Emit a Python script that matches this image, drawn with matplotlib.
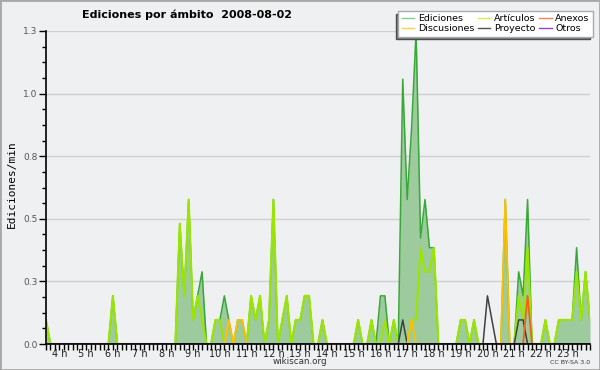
import numpy as np
import matplotlib
matplotlib.use('Agg')
import matplotlib.pyplot as plt
from matplotlib.patches import Rectangle
from matplotlib.lines import Line2D

# 10-minute bins, from 3:40 to 24:00 (edits per minute)
start_hour = 3 + 40 / 60.0

ediciones = [0.1, 0,
    0, 0, 0, 0, 0, 0,            # 4 h
    0, 0, 0, 0, 0, 0,            # 5 h
    0, 0.2, 0, 0, 0, 0,          # 6 h
    0, 0, 0, 0, 0, 0,            # 7 h
    0, 0, 0, 0, 0.5, 0.2,        # 8 h
    0.6, 0.1, 0.2, 0.3, 0, 0,    # 9 h
    0.1, 0.1, 0.2, 0.1, 0, 0.1,  # 10 h
    0.1, 0, 0.2, 0.1, 0.2, 0,    # 11 h
    0.1, 0.6, 0, 0.1, 0.2, 0,    # 12 h
    0.1, 0.1, 0.2, 0.2, 0, 0,    # 13 h
    0.1, 0, 0, 0, 0, 0,          # 14 h
    0, 0, 0.1, 0, 0, 0.1,        # 15 h
    0, 0.2, 0.2, 0, 0.1, 0,      # 16 h
    1.1, 0.6, 0.9, 1.3, 0.44, 0.6,  # 17 h
    0.4, 0.4, 0, 0, 0, 0,        # 18 h
    0, 0.1, 0.1, 0, 0.1, 0,      # 19 h
    0, 0, 0, 0, 0, 0.6,          # 20 h
    0, 0, 0.3, 0.2, 0.6, 0,      # 21 h
    0, 0, 0.1, 0, 0, 0.1,        # 22 h
    0.1, 0.1, 0.1, 0.4, 0.1, 0.3,  # 23 h
    0.1]

articulos = [0.1, 0,
    0, 0, 0, 0, 0, 0,
    0, 0, 0, 0, 0, 0,
    0, 0.2, 0, 0, 0, 0,
    0, 0, 0, 0, 0, 0,
    0, 0, 0, 0, 0.5, 0.2,
    0.6, 0.1, 0.2, 0.1, 0, 0,
    0.1, 0.1, 0, 0, 0, 0,
    0, 0, 0.2, 0.1, 0.2, 0,
    0.1, 0.6, 0, 0.1, 0.2, 0,
    0.1, 0.1, 0.2, 0.2, 0, 0,
    0.1, 0, 0, 0, 0, 0,
    0, 0, 0.1, 0, 0, 0.1,
    0, 0, 0.1, 0, 0.1, 0,
    0, 0, 0.1, 0.1, 0.4, 0.3,
    0.3, 0.4, 0, 0, 0, 0,
    0, 0.1, 0.1, 0, 0.1, 0,
    0, 0, 0, 0, 0, 0,
    0, 0, 0.2, 0.1, 0.4, 0,
    0, 0, 0.1, 0, 0, 0.1,
    0.1, 0.1, 0.1, 0.3, 0.1, 0.3,
    0.1]

n = len(ediciones)
discusiones = [0] * n
proyecto = [0] * n
anexos = [0] * n
otros = [0] * n
for i, v in [(41, 0.1), (43, 0.1), (44, 0.1), (82, 0.1), (103, 0.6)]:
    discusiones[i] = v
for i, v in [(80, 0.1), (99, 0.2), (100, 0.1), (106, 0.1), (107, 0.1)]:
    proyecto[i] = v
anexos[108] = 0.2

hours = list(range(4, 24))

bg = '#eff0f1'
x = start_hour + np.arange(n) / 6.0

fig = plt.figure(figsize=(6, 3.7), dpi=100, facecolor=bg)
ax = fig.add_axes([46/600, 26/370, 544/600, 313/370])
ax.set_facecolor(bg)

ax.fill_between(x, ediciones, 0, color='#9dcb9d', lw=0, zorder=1)
ax.plot(x, ediciones, color='#38a838', lw=1.1, zorder=2)
ax.plot(x, articulos, color='#9ae600', lw=1.5, zorder=3)
ax.plot(x, proyecto, color='#404040', lw=1.1, zorder=4)
ax.plot(x, discusiones, color='#ffc000', lw=1.3, zorder=4)
ax.plot(x, anexos, color='#f06020', lw=1.3, zorder=4)
ax.plot(x, otros, color='#8040e0', lw=1.1, zorder=4)

ax.set_xlim(start_hour, 24)
ax.set_ylim(0, 1.3)

yt = np.linspace(0, 1.3, 6)
ax.set_yticks(yt)
ax.set_yticklabels(['%.1f' % v for v in yt], fontsize=6.5, color='#555555')
ax.set_yticks(np.arange(0, 1.31, 0.065), minor=True)
ax.yaxis.grid(True, color='#cfcfcf', lw=1)
ax.set_axisbelow(True)

ax.set_xticks(np.arange(start_hour, 24.01, 1 / 6.0), minor=True)
ax.set_xticks([h + 0.17 for h in hours])
ax.set_xticklabels(['%d h' % h for h in hours], fontsize=7, color='#222222')
ax.tick_params(axis='x', which='major', length=0, pad=3.5)
ax.tick_params(axis='x', which='minor', length=4, width=1, direction='out')
ax.tick_params(axis='y', which='major', length=5, width=1, pad=1)
ax.tick_params(axis='y', which='minor', length=3, width=1)

for s in ['top', 'right']:
    ax.spines[s].set_visible(False)
for s in ['left', 'bottom']:
    ax.spines[s].set_linewidth(1.2)
    ax.spines[s].set_zorder(5)

fig.text(12/600, 1 - 184/370, 'Ediciones/min', rotation=90, fontsize=8,
         family='DejaVu Sans Mono', ha='center', va='center')
fig.text(187/600, 1 - 15/370, 'Ediciones por ámbito  2008-08-02', fontsize=8,
         fontweight='bold', ha='center', va='center')
fig.text(300/600, 1 - 362/370, 'wikiscan.org', fontsize=6.3, ha='center',
         va='center', color='#333333')
fig.text(590/600, 1 - 362/370, 'CC BY-SA 3.0', fontsize=4.5, ha='right',
         va='center', color='#333333')

names = ['Ediciones', 'Discusiones', 'Artículos', 'Proyecto', 'Anexos', 'Otros']
colors = ['#80d080', '#ffd040', '#ccee55', '#555555', '#ff8050', '#9040e0']
handles = [Line2D([], [], color=c, lw=1) for c in colors]
fig.legend(handles, names, ncol=3, loc='upper right',
           bbox_to_anchor=(593/600, 1 - 11/370), fontsize=6.8,
           frameon=True, fancybox=False, edgecolor='#aaaaaa',
           facecolor='white', framealpha=1, handlelength=1.3,
           handletextpad=0.4, columnspacing=0.4, labelspacing=0.1,
           borderpad=0.35, borderaxespad=0,
           shadow={'ox': -2, 'oy': -2, 'facecolor': '#7a7a7a', 'alpha': 1})

fig.patches.append(Rectangle((0, 0), 1, 1, transform=fig.transFigure,
                             fill=False, edgecolor='#a8a8a8', lw=2))

fig.savefig('out.png', dpi=100, facecolor=bg)
